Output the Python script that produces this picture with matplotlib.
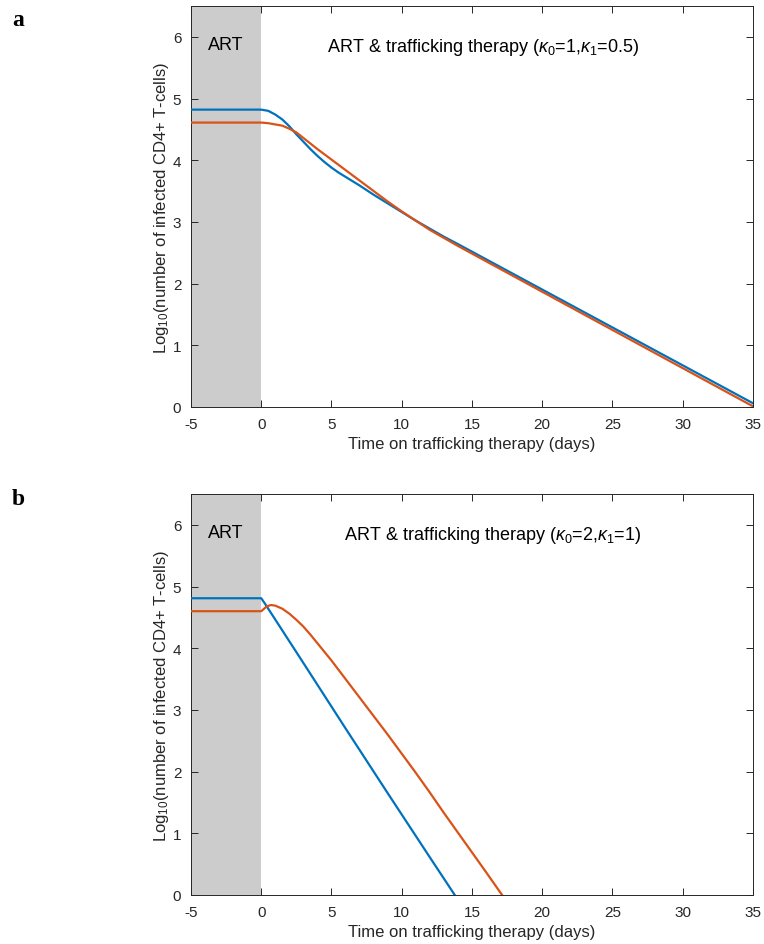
import numpy as np
import matplotlib
matplotlib.use("Agg")
import matplotlib.pyplot as plt

plt.rcParams['font.family'] = ['Liberation Sans', 'DejaVu Sans']
plt.rcParams['mathtext.fontset'] = 'custom'
plt.rcParams['mathtext.rm'] = 'Liberation Sans'
plt.rcParams['mathtext.it'] = 'Liberation Sans:italic'
plt.rcParams['axes.unicode_minus'] = False

# panel a : kappa0=1, kappa1=0.5
t_a_blue = [-5, 0, 0.5, 1, 1.5, 2, 2.5, 3, 3.5, 4, 4.5, 5, 5.5, 6, 6.5, 7, 8, 9, 10, 11,
            12, 13, 14, 35]
v_a_blue = [4.82, 4.82, 4.80, 4.74, 4.66, 4.55, 4.42, 4.30, 4.18, 4.07, 3.97, 3.88, 3.80,
            3.73, 3.66, 3.59, 3.44, 3.30, 3.16, 3.02, 2.89, 2.76, 2.64, 0.06]
t_a_orange = [-5, 0, 0.5, 1, 1.5, 2, 2.5, 3, 3.5, 4, 5, 6, 7, 8, 9, 10, 11, 12, 13, 14, 35]
v_a_orange = [4.61, 4.61, 4.60, 4.58, 4.56, 4.51, 4.45, 4.36, 4.27, 4.18, 4.01, 3.84, 3.67,
              3.50, 3.33, 3.17, 3.02, 2.87, 2.74, 2.61, 0.01]

# panel b : kappa0=2, kappa1=1
t_b_blue = [-5, 0, 0.3, 3, 6, 9, 12, 13.77]
v_b_blue = [4.81, 4.81, 4.71, 3.76, 2.70, 1.65, 0.61, 0.0]
t_b_orange = [-5, 0, 0.2, 0.4, 0.7, 1, 1.5, 2, 2.5, 3, 3.5, 4, 4.5, 5, 5.5, 6, 6.5, 7,
              8, 9, 10, 11, 12, 13, 14, 15, 16, 17.14]
v_b_orange = [4.60, 4.60, 4.64, 4.68, 4.70, 4.69, 4.64, 4.56, 4.46, 4.35, 4.22, 4.08, 3.94,
              3.80, 3.65, 3.50, 3.35, 3.20, 2.90, 2.60, 2.29, 1.98, 1.66, 1.33, 1.01, 0.69,
              0.37, 0.0]

titles = [r'ART & trafficking therapy ($\kappa_0$=1,$\kappa_1$=0.5)',
          r'ART & trafficking therapy ($\kappa_0$=2,$\kappa_1$=1)']
title_x = [4.7, 5.9]
panel_labels = ['a', 'b']

blue = '#0072BD'
orange = '#D95319'
axcol = '#262626'

fig = plt.figure(figsize=(7.64, 9.45), dpi=100)
ax1 = fig.add_axes([0.25, 0.5683, 0.7356, 0.4243])
ax2 = fig.add_axes([0.25, 0.0519, 0.7356, 0.4243])

data = [(t_a_blue, v_a_blue, t_a_orange, v_a_orange),
        (t_b_blue, v_b_blue, t_b_orange, v_b_orange)]

for i, ax in enumerate([ax1, ax2]):
    tb, vb, to, vo = data[i]
    ax.axvspan(-5, 0, color='#cccccc', lw=0, zorder=0)
    ax.plot(tb, vb, color=blue, lw=1.6, zorder=3)
    ax.plot(to, vo, color=orange, lw=1.6, zorder=3)
    ax.set_xlim(-5, 35)
    ax.set_ylim(0, 6.5)
    ax.set_xticks(range(-5, 36, 5))
    ax.set_yticks(range(0, 7))
    ax.tick_params(direction='in', top=True, right=True, length=5, width=0.7,
                   labelsize=11, colors=axcol, pad=7)
    for s in ax.spines.values():
        s.set_color(axcol)
        s.set_linewidth(0.7)
    ax.set_xlabel('Time on trafficking therapy (days)', fontsize=12, color=axcol, labelpad=4)
    ax.set_ylabel(r'Log$_{10}$(number of infected CD4+ T-cells)', fontsize=12, color=axcol,
                  labelpad=1)
    ax.text(-2.5, 5.87, 'ART', fontsize=13, ha='center', va='center', color='black')
    ax.text(title_x[i], 5.85, titles[i], fontsize=13, ha='left', va='center', color='black')

fig.text(12 / 764, 1 - 20 / 945, panel_labels[0], fontsize=17, fontweight='bold',
         family='Liberation Serif', va='center')
fig.text(12 / 764, 1 - 500 / 945, panel_labels[1], fontsize=17, fontweight='bold',
         family='Liberation Serif', va='center')

fig.savefig('out.png', dpi=100)
